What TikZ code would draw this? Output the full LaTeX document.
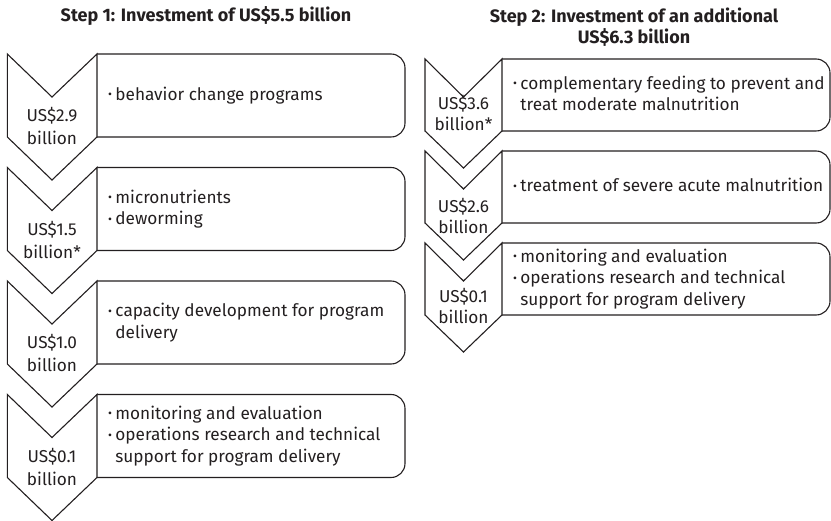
\documentclass[tikz,border=0pt]{standalone}
\usepackage{fontspec}
\setmainfont{Fira Sans}
\definecolor{ink}{HTML}{231F20}
\newcommand{\bul}{\raisebox{0.15ex}{\scalebox{0.7}{•}}}
\begin{document}
\begin{tikzpicture}[x=1pt,y=-1pt,line width=1.1pt,
  shp/.style={draw=ink,fill=white,line join=miter},
  box/.style={draw=ink,rounded corners=14pt},
  amt/.style={text=ink,font=\fontsize{17.2}{21}\selectfont,align=center,inner sep=0pt},
  item/.style={text=ink,font=\fontsize{17.2}{21.5}\selectfont,anchor=west,inner sep=0pt},
  ttl/.style={text=ink,font=\bfseries\fontsize{18}{21}\selectfont,align=center,inner sep=0pt}]
\useasboundingbox (0,0) rectangle (831,521);
\clip (0,0) rectangle (831,521);

% titles
\node[ttl] (t1) at (206,16) {Step 1: Investment of US\$5.5 billion};
\node[ttl] (t2) at (634,27) {Step 2: Investment of an additional\\US\$6.3 billion};

% left column
\foreach \i/\t/\la/\lb/\txt in {
  1/54/US\$2.9/billion/{\bul&behavior change programs},
  2/167.5/US\$1.5/billion*/{\bul&micronutrients\\\bul&deworming},
  3/281/US\$1.0/billion/{\bul&capacity development for program\\&delivery},
  4/394.5/US\$0.1/billion/{\bul&monitoring and evaluation\\\bul&operations research and technical\\&support for program delivery}}{
  \draw[box] (97,\t) -- (405,\t) -- (405,\t+83) -- (97,\t+83);
  \draw[shp] (7.3,\t) -- (52,\t+43) -- (97,\t) -- (97,\t+83) -- (52,\t+126) -- (7.3,\t+83) -- cycle;
  \node[amt] (la\i) at (52,\t+62) {\la};
  \node[amt] (lb\i) at (52,\t+84) {\lb};
  \node[item] (lt\i) at (107.5,\t+42) {\begin{tabular}{@{}l@{\hspace{3.5pt}}l@{}}\txt\end{tabular}};
}

% right column
\foreach \i/\t/\la/\lb/\dy/\txt in {
  1/59/US\$3.6/billion*/45/{\bul&complementary feeding to prevent and\\&treat moderate malnutrition},
  2/151/US\$2.6/billion/56/{\bul&treatment of severe acute malnutrition},
  3/243/US\$0.1/billion/54/{\bul&monitoring and evaluation\\\bul&operations research and technical\\&support for program delivery}}{
  \draw[box] (502,\t) -- (830,\t) -- (830,\t+72) -- (502,\t+72);
  \draw[shp] (425,\t) -- (463.5,\t+38) -- (502,\t) -- (502,\t+72) -- (463.5,\t+109) -- (425,\t+72) -- cycle;
  \node[amt] (ra\i) at (463.5,\t+\dy) {\la};
  \node[amt] (rb\i) at (463.5,\t+\dy+20) {\lb};
  \node[item] (rt\i) at (512.5,\t+36.5) {\begin{tabular}{@{}l@{\hspace{3.5pt}}l@{}}\txt\end{tabular}};
}
\end{tikzpicture}
\end{document}
